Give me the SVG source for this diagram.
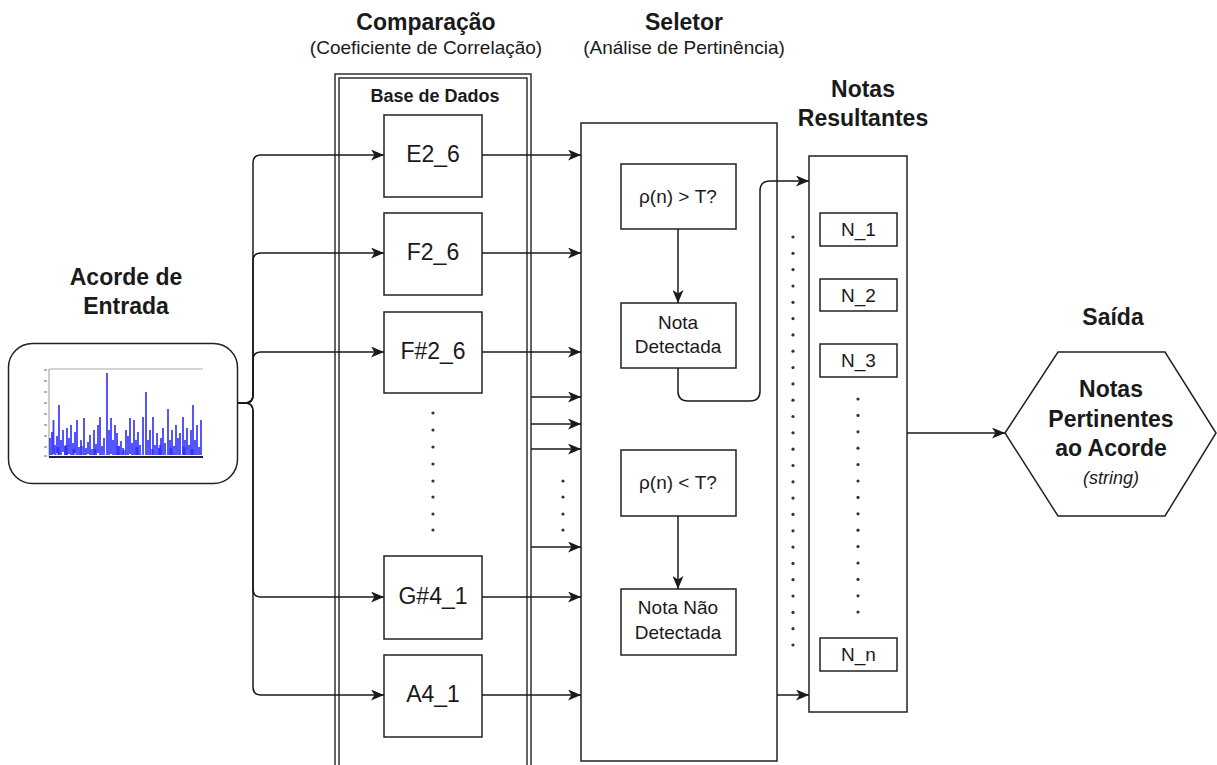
<svg xmlns="http://www.w3.org/2000/svg" width="1217" height="765" viewBox="0 0 1217 765">
  <style>
    .t { font-family: "Liberation Sans", Arial, sans-serif; fill: #1a1a1a; text-anchor: middle; }
    .title { font-size: 23px; font-weight: bold; }
    .sub { font-size: 19px; }
    .lbl { font-size: 23px; }
    .mid { font-size: 19px; }
    .box { fill: #ffffff; stroke: #222; stroke-width: 1.5; }
    .edge { fill: none; stroke: #1a1a1a; stroke-width: 1.5; }
    .dot { fill: #333; }
  </style>
  <defs>
    <marker id="arrow" viewBox="0 0 13 11" refX="13" refY="5.5" markerWidth="13" markerHeight="11" markerUnits="userSpaceOnUse" orient="auto">
      <path d="M0,0 L13,5.5 L0,11 L3.5,5.5 Z" fill="#1a1a1a"/>
    </marker>
    <filter id="soft" x="-5%" y="-5%" width="110%" height="110%">
      <feGaussianBlur stdDeviation="0.5"/>
    </filter>
  </defs>
  <rect width="1217" height="765" fill="#ffffff"/>

  <!-- column titles -->
  <g id="titles">
    <text class="t title" x="426" y="30">Comparação</text>
    <text class="t sub" x="426" y="54">(Coeficiente de Correlação)</text>
    <text class="t title" x="684" y="30">Seletor</text>
    <text class="t sub" x="684" y="54">(Análise de Pertinência)</text>
    <text class="t title" x="863" y="97">Notas</text>
    <text class="t title" x="863" y="126">Resultantes</text>
    <text class="t title" x="1113" y="325">Saída</text>
    <text class="t title" x="126" y="285">Acorde de</text>
    <text class="t title" x="126" y="314">Entrada</text>
  </g>

  <!-- input chord spectrum -->
  <g id="input">
    <rect x="8.5" y="343.5" width="229" height="140" rx="24" ry="24" fill="#fff" stroke="#222" stroke-width="1.5"/>
    <line x1="49" y1="369" x2="203" y2="369" stroke="#aaa" stroke-width="1"/>
    <line x1="49" y1="369" x2="49" y2="457" stroke="#999" stroke-width="1"/>
    <path d="M44,370 h3 M44,381 h3 M44,392 h3 M44,403 h3 M44,414 h3 M44,425 h3 M44,436 h3 M44,447 h3 M44,456 h3" stroke="#666" stroke-width="1"/>
    <g filter="url(#soft)">
      <path stroke="#1e1eff" stroke-width="1.8" stroke-opacity="0.85" d="M50,455V438 M52,455V432 M53.5,454V420 M55,455V445 M57,453V436 M59,455V405 M61,455V440 M63,452V430 M65,455V446 M67,455V428 M69,454V438 M71,455V425 M73,455V443 M75,453V432 M77,455V420 M79,455V447 M81,455V440 M84,455V418 M86,455V448 M88,454V442 M90,455V435 M92,455V449 M94,455V430 M96,455V444 M98,453V425 M100,455V417 M102,455V446 M104,455V438 M107,455V373 M109,455V430 M111,454V418 M113,455V440 M115,455V425 M117,455V433 M119,455V446 M121,455V441 M123,455V448 M126,455V430 M128,455V436 M130,454V418 M132,455V443 M134,455V420 M136,455V440 M138,455V432 M140,455V445 M143,455V417 M146,455V392 M148,455V440 M150,455V430 M153,455V417 M155,455V445 M157,455V433 M159,455V448 M161,455V438 M163,455V428 M165,455V443 M168,455V409 M170,455V440 M172,455V430 M174,455V446 M176,455V425 M178,455V438 M180,455V433 M183,455V417 M185,455V440 M187,455V428 M189,455V445 M191,455V430 M193,455V405 M195,455V440 M197,455V425 M199,455V447 M201,455V420"/>
      <path stroke="#1e1eff" stroke-width="3" stroke-opacity="0.6" d="M58,455V447 M66,455V445 M74,455V449 M82,455V446 M95,455V449 M118,455V446 M124,455V450 M137,455V447 M152,455V449 M160,455V445 M171,455V448 M184,455V447 M192,455V449"/>
    </g>
    <line x1="49" y1="457" x2="203" y2="457" stroke="#222" stroke-width="1.8"/>
  </g>

  <!-- comparison container with the database entries -->
  <g id="comparacao">
    <rect x="335" y="74" width="196" height="720" fill="none" stroke="#222" stroke-width="1.4"/>
    <rect x="339" y="78" width="188" height="712" fill="none" stroke="#222" stroke-width="1.4"/>
    <text class="t" x="435" y="102" style="font-size:18px;font-weight:bold">Base de Dados</text>
  </g>
  <g id="e2_6"><rect class="box" x="384" y="115" width="98" height="82"/><text class="t lbl" x="433" y="162">E2_6</text></g>
  <g id="f2_6"><rect class="box" x="384" y="213" width="98" height="82"/><text class="t lbl" x="433" y="260">F2_6</text></g>
  <g id="fs2_6"><rect class="box" x="384" y="312" width="98" height="81"/><text class="t lbl" x="433" y="359">F#2_6</text></g>
  <g id="gs4_1"><rect class="box" x="384" y="556" width="98" height="83"/><text class="t lbl" x="433" y="604">G#4_1</text></g>
  <g id="a4_1"><rect class="box" x="384" y="655" width="98" height="82"/><text class="t lbl" x="433" y="702">A4_1</text></g>
  <g id="db-dots">
    <circle class="dot" cx="433" cy="413" r="1.6"/><circle class="dot" cx="433" cy="430" r="1.6"/>
    <circle class="dot" cx="433" cy="447" r="1.6"/><circle class="dot" cx="433" cy="464" r="1.6"/>
    <circle class="dot" cx="433" cy="481" r="1.6"/><circle class="dot" cx="433" cy="497" r="1.6"/>
    <circle class="dot" cx="433" cy="514" r="1.6"/><circle class="dot" cx="433" cy="530" r="1.6"/>
  </g>

  <!-- selector -->
  <g id="seletor">
    <rect class="box" x="581" y="123" width="196" height="638"/>
  </g>
  <g id="cond-maior"><rect class="box" x="621" y="164" width="115" height="65"/><text class="t mid" x="678" y="203">ρ(n) &gt; T?</text></g>
  <g id="nota-detectada"><rect class="box" x="621" y="303" width="115" height="65"/><text class="t mid" x="678" y="329">Nota</text><text class="t mid" x="678" y="353">Detectada</text></g>
  <g id="cond-menor"><rect class="box" x="621" y="450" width="115" height="66"/><text class="t mid" x="678" y="489">ρ(n) &lt; T?</text></g>
  <g id="nota-nao-detectada"><rect class="box" x="621" y="589" width="115" height="66"/><text class="t mid" x="678" y="614">Nota Não</text><text class="t mid" x="678" y="639">Detectada</text></g>

  <!-- resulting notes -->
  <g id="notas-resultantes">
    <rect class="box" x="809" y="156" width="98" height="556"/>
  </g>
  <g id="n_1"><rect class="box" x="820" y="213" width="77" height="33"/><text class="t mid" x="858.5" y="236">N_1</text></g>
  <g id="n_2"><rect class="box" x="820" y="279" width="77" height="32"/><text class="t mid" x="858.5" y="302">N_2</text></g>
  <g id="n_3"><rect class="box" x="820" y="344" width="77" height="33"/><text class="t mid" x="858.5" y="367">N_3</text></g>
  <g id="n_n"><rect class="box" x="820" y="638" width="77" height="33"/><text class="t mid" x="858.5" y="661">N_n</text></g>
  <g id="notes-dots">
    <circle class="dot" cx="858" cy="399" r="1.6"/><circle class="dot" cx="858" cy="415.4" r="1.6"/>
    <circle class="dot" cx="858" cy="431.8" r="1.6"/><circle class="dot" cx="858" cy="448.2" r="1.6"/>
    <circle class="dot" cx="858" cy="464.6" r="1.6"/><circle class="dot" cx="858" cy="481" r="1.6"/>
    <circle class="dot" cx="858" cy="497.4" r="1.6"/><circle class="dot" cx="858" cy="513.8" r="1.6"/>
    <circle class="dot" cx="858" cy="530.2" r="1.6"/><circle class="dot" cx="858" cy="546.6" r="1.6"/>
    <circle class="dot" cx="858" cy="563" r="1.6"/><circle class="dot" cx="858" cy="579.4" r="1.6"/>
    <circle class="dot" cx="858" cy="595.8" r="1.6"/><circle class="dot" cx="858" cy="612" r="1.6"/>
  </g>

  <!-- output -->
  <g id="saida">
    <polygon points="1005,433 1058,352 1165,352 1216,433 1165,516 1058,516" fill="#fff" stroke="#222" stroke-width="1.5"/>
    <text class="t title" x="1111" y="397">Notas</text>
    <text class="t title" x="1111" y="427">Pertinentes</text>
    <text class="t title" x="1111" y="456">ao Acorde</text>
    <text class="t" x="1111" y="484" style="font-size:18px;font-style:italic">(string)</text>
  </g>

  <!-- connectors -->
  <g id="connectors">
    <path class="edge" marker-end="url(#arrow)" d="M238,403 H245 Q253,403 253,395 V163 Q253,155 261,155 H384"/>
    <path class="edge" marker-end="url(#arrow)" d="M238,403 H245 Q253,403 253,395 V261 Q253,253 261,253 H384"/>
    <path class="edge" marker-end="url(#arrow)" d="M238,403 H245 Q253,403 253,395 V360 Q253,352 261,352 H384"/>
    <path class="edge" marker-end="url(#arrow)" d="M238,403 H245 Q253,403 253,411 V589 Q253,597 261,597 H384"/>
    <path class="edge" marker-end="url(#arrow)" d="M238,403 H245 Q253,403 253,411 V687 Q253,695 261,695 H384"/>

    <path class="edge" marker-end="url(#arrow)" d="M482,155 H581"/>
    <path class="edge" marker-end="url(#arrow)" d="M482,253 H581"/>
    <path class="edge" marker-end="url(#arrow)" d="M482,352 H581"/>
    <path class="edge" marker-end="url(#arrow)" d="M482,597 H581"/>
    <path class="edge" marker-end="url(#arrow)" d="M482,695 H581"/>
    <path class="edge" marker-end="url(#arrow)" d="M531,397 H581"/>
    <path class="edge" marker-end="url(#arrow)" d="M531,424 H581"/>
    <path class="edge" marker-end="url(#arrow)" d="M531,449 H581"/>
    <path class="edge" marker-end="url(#arrow)" d="M531,547 H581"/>
    <circle class="dot" cx="563" cy="481" r="1.6"/><circle class="dot" cx="563" cy="497" r="1.6"/>
    <circle class="dot" cx="563" cy="514" r="1.6"/><circle class="dot" cx="563" cy="530" r="1.6"/>

    <path class="edge" marker-end="url(#arrow)" d="M678,229 V303"/>
    <path class="edge" marker-end="url(#arrow)" d="M678,516 V589"/>
    <path class="edge" marker-end="url(#arrow)" d="M678,368 V391 Q678,401 688,401 H750 Q760,401 760,391 V191 Q760,181 770,181 H809"/>
    <path class="edge" marker-end="url(#arrow)" d="M777,695 H809"/>
    <path class="edge" marker-end="url(#arrow)" d="M907,433 H1005"/>

    <g id="selector-dots">
      <circle class="dot" cx="793" cy="237" r="1.6"/><circle class="dot" cx="793" cy="253.3" r="1.6"/>
      <circle class="dot" cx="793" cy="269.6" r="1.6"/><circle class="dot" cx="793" cy="286" r="1.6"/>
      <circle class="dot" cx="793" cy="302.3" r="1.6"/><circle class="dot" cx="793" cy="318.6" r="1.6"/>
      <circle class="dot" cx="793" cy="334.9" r="1.6"/><circle class="dot" cx="793" cy="351.2" r="1.6"/>
      <circle class="dot" cx="793" cy="367.6" r="1.6"/><circle class="dot" cx="793" cy="383.9" r="1.6"/>
      <circle class="dot" cx="793" cy="400.2" r="1.6"/><circle class="dot" cx="793" cy="416.5" r="1.6"/>
      <circle class="dot" cx="793" cy="432.8" r="1.6"/><circle class="dot" cx="793" cy="449.2" r="1.6"/>
      <circle class="dot" cx="793" cy="465.5" r="1.6"/><circle class="dot" cx="793" cy="481.8" r="1.6"/>
      <circle class="dot" cx="793" cy="498.1" r="1.6"/><circle class="dot" cx="793" cy="514.4" r="1.6"/>
      <circle class="dot" cx="793" cy="530.8" r="1.6"/><circle class="dot" cx="793" cy="547.1" r="1.6"/>
      <circle class="dot" cx="793" cy="563.4" r="1.6"/><circle class="dot" cx="793" cy="579.7" r="1.6"/>
      <circle class="dot" cx="793" cy="596" r="1.6"/><circle class="dot" cx="793" cy="612.4" r="1.6"/>
      <circle class="dot" cx="793" cy="628.7" r="1.6"/><circle class="dot" cx="793" cy="645" r="1.6"/>
    </g>
  </g>
</svg>
